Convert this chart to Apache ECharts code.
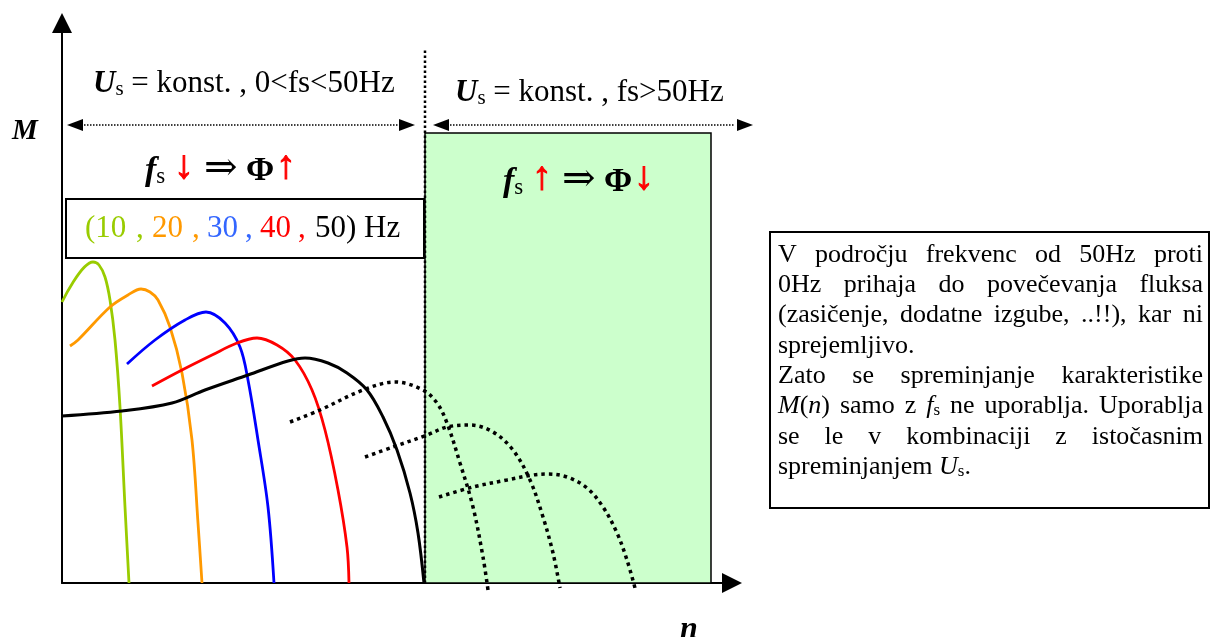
<!DOCTYPE html>
<html>
<head>
<meta charset="utf-8">
<title>M(n) pri spreminjanju fs</title>
<script src="https://cdn.jsdelivr.net/npm/echarts@6/dist/echarts.min.js"></script>
<style>
  html, body { margin: 0; padding: 0; background: #fff; }
  #main { width: 1212px; height: 637px; }
</style>
</head>
<body>
<div id="main"></div>
<script>
  const nMax = 670
  const mMax = 560

  // M(n) curves for fs = 10, 20, 30, 40, 50 Hz  [n, M]
  const curve10 = [[0,281],[31,321],[37,318],[43,306],[48,283],[53,243],[58,176],[63,76],[67,0]]
  const curve20 = [[8,237],[16,243],[48,276],[66,288],[79,294],[88,291],[96,283],[108,256],[120,210],[130,143],[136,60],[140,0]]
  const curve30 = [[65,219],[93,243],[123,263],[144,271],[163,260],[178,236],[186,203],[196,143],[206,76],[212,0]]
  const curve40 = [[90,197],[120,213],[150,228],[175,240],[195,245],[215,238],[233,223],[250,193],[263,153],[276,93],[285,36],[287,0]]
  const curve50 = [[0,167],[60,172],[110,180],[143,193],[186,208],[226,222],[243,225],[266,220],[285,210],[305,193],[321,166],[335,133],[348,90],[356,50],[362,0]]
  // fs > 50 Hz (dotted)
  const curveHi1 = [[228,161],[258,173],[301,193],[333,201],[361,193],[375,180],[385,160],[398,120],[411,76],[421,26],[426,-7]]
  const curveHi2 = [[303,126],[331,136],[365,148],[385,156],[408,158],[431,151],[451,133],[468,103],[481,66],[491,30],[498,-5]]
  const curveHi3 = [[377,86],[411,96],[445,103],[471,108],[485,109],[505,106],[525,95],[541,76],[555,50],[565,23],[573,-5]]

  // 50 Hz border, field-weakening area, range arrows
  const nRated = 363
  const nAreaEnd = 649
  const mAreaTop = 450
  const mBorderTop = 535
  const mRangeArrow = 458
  const rangeLow = [13, 345]
  const rangeHigh = [379, 683]

  const freqLabels = ['(10', '20', '30', '40', '50) Hz']
  const freqColors = ['#99cc00', '#ff9900', '#3366ff', '#ff0000', '#000000']

  const noteLines = [
    'V področju frekvenc od 50Hz proti',
    '0Hz prihaja do povečevanja fluksa',
    '(zasičenje, dodatne izgube, ..!!), kar ni',
    'sprejemljivo.',
    'Zato se spreminjanje karakteristike',
    '{i|M}({i|n}) samo z {i|f}{s|s} ne uporablja. Uporablja',
    'se le v kombinaciji z istočasnim',
    'spreminjanjem {i|U}{s|s}.'
  ]
  const noteJustify = [true, true, true, false, true, true, true, false]

  const serif = '"Liberation Serif", "Times New Roman", "DejaVu Serif", serif'
  const BODY = 26

  const chart = echarts.init(document.getElementById('main'))

  function curve (data, color, width, dashed) {
    return {
      type: 'line',
      data: data,
      smooth: 0.35,
      showSymbol: false,
      clip: false,
      silent: true,
      z: 3,
      lineStyle: { color: color, width: width, type: dashed ? [3.5, 4] : 'solid', cap: 'butt' }
    }
  }

  function rangeArrow (ends) {
    return {
      type: 'line',
      clip: false,
      silent: true,
      z: 4,
      showSymbol: true,
      symbol: 'triangle',
      symbolSize: [12, 16],
      itemStyle: { color: '#000' },
      lineStyle: { color: '#000', width: 1.5, type: 'dotted' },
      data: [
        { value: [ends[0], mRangeArrow], symbolRotate: 90 },
        { value: [ends[1], mRangeArrow], symbolRotate: -90 }
      ]
    }
  }

  // justified note text, measured word by word
  const ctx = document.createElement('canvas').getContext('2d')
  const noteRich = {
    i: { fontSize: BODY, fontStyle: 'italic', fontFamily: serif, fill: '#000' },
    s: { fontSize: 17, fontFamily: serif, fill: '#000', verticalAlign: 'bottom', lineHeight: 14 }
  }
  function measure (word) {
    let w = 0
    word.replace(/\{(\w)\|([^}]*)\}|([^{]+)/g, function (m, k, t, plain) {
      const st = k ? noteRich[k] : { fontSize: BODY }
      ctx.font = (st.fontStyle || 'normal') + ' normal ' + st.fontSize + 'px ' + serif
      w += ctx.measureText(k ? t : plain).width
      return m
    })
    return w
  }

  const noteLeft = 778
  const noteRight = 1203
  const noteTop = 255
  const noteStep = 30.3
  const graphics = []

  noteLines.forEach(function (line, li) {
    const words = line.split(' ')
    const widths = words.map(measure)
    const total = widths.reduce(function (a, b) { return a + b }, 0)
    ctx.font = BODY + 'px ' + serif
    let gap = ctx.measureText(' ').width
    if (noteJustify[li] && words.length > 1) gap = (noteRight - noteLeft - total) / (words.length - 1)
    let x = noteLeft
    words.forEach(function (w, wi) {
      graphics.push({
        type: 'text', z: 100, silent: true,
        style: {
          x: x, y: noteTop + li * noteStep, text: w, rich: noteRich,
          fontSize: BODY, fontFamily: serif, fill: '#000',
          align: 'left', verticalAlign: 'middle'
        }
      })
      x += widths[wi] + gap
    })
  })

  const headRich = {
    u: { fontSize: 31, fontWeight: 'bold', fontStyle: 'italic', fontFamily: serif, fill: '#000' },
    s: { fontSize: 21, fontFamily: serif, fill: '#000', verticalAlign: 'bottom', lineHeight: 17 },
    t: { fontSize: 31, fontFamily: serif, fill: '#000' }
  }
  const subRich = {
    f: { fontSize: 34, fontWeight: 'bold', fontStyle: 'italic', fontFamily: serif, fill: '#000' },
    s: { fontSize: 23, fontFamily: serif, fill: '#000', verticalAlign: 'bottom', lineHeight: 18 }
  }

  function label (x, y, text, rich, extra) {
    return {
      type: 'text', z: 100, silent: true,
      style: Object.assign({
        x: x, y: y, text: text, rich: rich, fontFamily: serif, fontSize: 28, fill: '#000',
        align: 'left', verticalAlign: 'middle'
      }, extra || {})
    }
  }

  // fs ↓ ⇒ Φ↑ in pieces
  function fluxRow (x0, yBase, arrow1, arrow2) {
    const yMid = yBase - 11
    const arrowStyle = { fontSize: 40, fontWeight: 'bold', fill: '#ff0000', stroke: '#ff0000', lineWidth: 1 }
    return [
      label(x0, yMid, '{f|f}{s|s}', subRich),
      label(x0 + 29, yMid - 3, arrow1, null, arrowStyle),
      label(x0 + 59, yMid - 1, '⇒', null, { fontSize: 40, fill: '#000', fontFamily: '"DejaVu Serif", serif' }),
      label(x0 + 101, yMid, 'Φ', null, { fontSize: 34, fontWeight: 'bold', fill: '#000' }),
      label(x0 + 131, yMid - 3, arrow2, null, arrowStyle)
    ]
  }

  graphics.push(
    { type: 'rect', z: 90, silent: true, shape: { x: 770, y: 232, width: 439, height: 276 },
      style: { fill: '#fff', stroke: '#000', lineWidth: 2 } },
    { type: 'rect', z: 90, silent: true, shape: { x: 66, y: 199, width: 358, height: 59 },
      style: { fill: '#fff', stroke: '#000', lineWidth: 2 } },
    label(93, 84, '{u|U}{s|s}{t| = konst. , 0<fs<50Hz}', headRich),
    label(455, 93, '{u|U}{s|s}{t| = konst. , fs>50Hz}', headRich),
    label(12, 132, 'M', null, { fontWeight: 'bold', fontStyle: 'italic', fontSize: 29 }),
    label(680, 630, 'n', null, { fontWeight: 'bold', fontStyle: 'italic', fontSize: 32 })
  )
  fluxRow(145, 182, '↓', '↑').forEach(function (g) { graphics.push(g) })
  fluxRow(503, 193, '↑', '↓').forEach(function (g) { graphics.push(g) })

  // (10 , 20 , 30 , 40 , 50) Hz  in the curve colours
  const freqX = [85, 152, 207, 260, 315]
  const commaX = [136, 192, 245, 298]
  freqLabels.forEach(function (t, i) {
    graphics.push(label(freqX[i], 229, t, null, { fontSize: 31, fill: freqColors[i] }))
    if (i < commaX.length) graphics.push(label(commaX[i], 229, ',', null, { fontSize: 31, fill: freqColors[i] }))
  })

  const option = {
    animation: false,
    backgroundColor: '#fff',
    grid: { left: 62, top: 23, width: nMax, height: mMax },
    xAxis: {
      type: 'value', min: 0, max: nMax,
      axisLine: { show: true, symbol: ['none', 'triangle'], symbolSize: [20, 20], lineStyle: { color: '#000', width: 2 } },
      axisTick: { show: false }, axisLabel: { show: false }, splitLine: { show: false }
    },
    yAxis: {
      type: 'value', min: 0, max: mMax,
      axisLine: { show: true, symbol: ['none', 'triangle'], symbolSize: [20, 20], lineStyle: { color: '#000', width: 2 } },
      axisTick: { show: false }, axisLabel: { show: false }, splitLine: { show: false }
    },
    series: [
      {
        type: 'line', data: [], silent: true, clip: false,
        markArea: {
          silent: true,
          itemStyle: { color: '#ccffcc', borderColor: '#000', borderWidth: 1.5 },
          data: [[{ coord: [nRated, 0] }, { coord: [nAreaEnd, mAreaTop] }]]
        }
      },
      {
        type: 'line', silent: true, clip: false, showSymbol: false, z: 4,
        lineStyle: { color: '#000', width: 2.5, type: [2.5, 2.5] },
        data: [[nRated, 0], [nRated, mBorderTop]]
      },
      rangeArrow(rangeLow),
      rangeArrow(rangeHigh),
      curve(curve10, '#99cc00', 2.8),
      curve(curve20, '#ff9900', 2.8),
      curve(curve30, '#0000ff', 2.8),
      curve(curve40, '#ff0000', 2.8),
      curve(curve50, '#000000', 3),
      curve(curveHi1, '#000000', 3.5, true),
      curve(curveHi2, '#000000', 3.5, true),
      curve(curveHi3, '#000000', 3.5, true)
    ],
    graphic: { elements: graphics }
  }

  chart.setOption(option)
</script>
</body>
</html>
